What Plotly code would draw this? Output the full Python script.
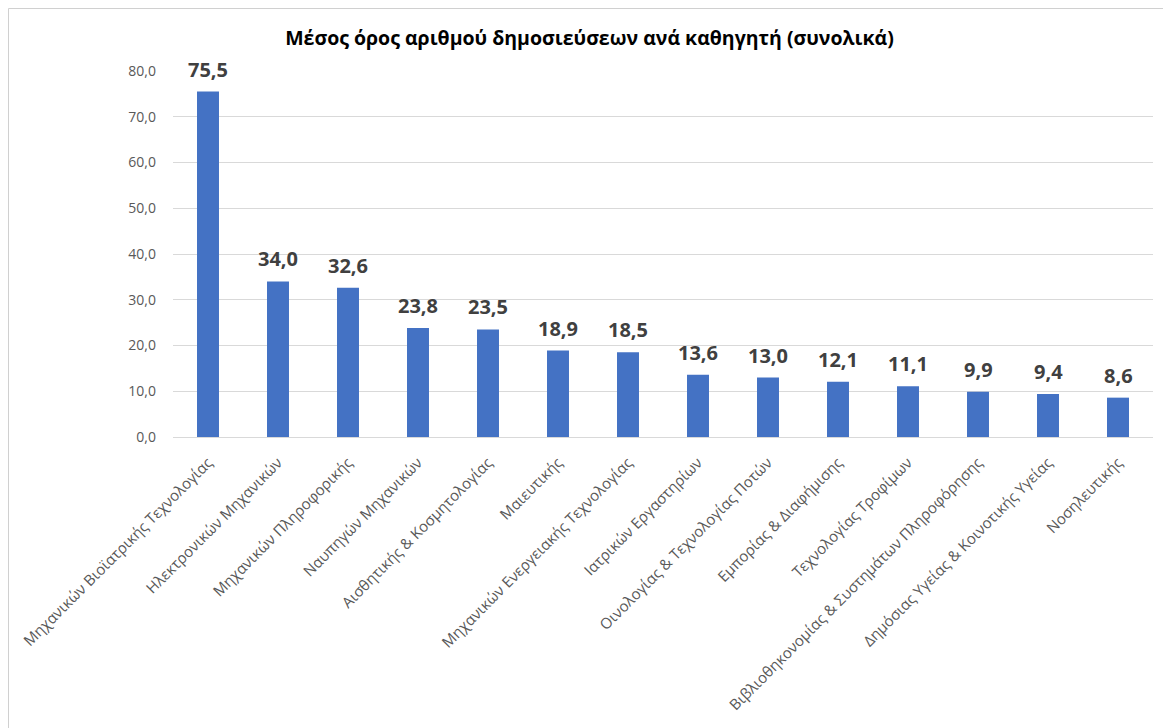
import plotly.graph_objects as go

categories = [
    "Μηχανικών Βιοϊατρικής Τεχνολογίας",
    "Ηλεκτρονικών Μηχανικών",
    "Μηχανικών Πληροφορικής",
    "Ναυπηγών Μηχανικών",
    "Αισθητικής & Κοσμητολογίας",
    "Μαιευτικής",
    "Μηχανικών Ενεργειακής Τεχνολογίας",
    "Ιατρικών Εργαστηρίων",
    "Οινολογίας & Τεχνολογίας Ποτών",
    "Εμπορίας & Διαφήμισης",
    "Τεχνολογίας Τροφίμων",
    "Βιβλιοθηκονομίας & Συστημάτων Πληροφόρησης",
    "Δημόσιας Υγείας & Κοινοτικής Υγείας",
    "Νοσηλευτικής",
]
values = [75.5, 34.0, 32.6, 23.8, 23.5, 18.9, 18.5, 13.6, 13.0, 12.1, 11.1, 9.9, 9.4, 8.6]
y_ticks = [0, 10, 20, 30, 40, 50, 60, 70, 80]

# page body has an 8px margin, so the figure is laid out in its own coordinates
W, H = 1163, 720
L, R, T, B = 165, 18, 63, 291
PW, PH = W - L - R, H - T - B

fig = go.Figure(go.Bar(
    x=categories,
    y=values,
    marker=dict(color="#4472C4", line=dict(width=0)),
    hoverinfo="x+y",
))

for c, v in zip(categories, values):
    fig.add_annotation(
        x=c, y=v, xref="x", yref="y",
        text=f"<b>{v:.1f}</b>".replace(".", ","),
        showarrow=False, yanchor="bottom", yshift=7,
        font=dict(family="Open Sans", size=20, color="#404040"),
    )

fig.update_layout(
    width=W, height=H,
    margin=dict(l=L, r=R, t=T, b=B, autoexpand=False),
    paper_bgcolor="white",
    plot_bgcolor="white",
    separators=",.",
    bargap=0.686,
    showlegend=False,
    title=dict(
        text="<b>Μέσος όρος αριθμού δημοσιεύσεων ανά καθηγητή (συνολικά)</b>",
        x=0.5, xanchor="center", xref="container",
        y=1 - 30 / H, yanchor="middle", yref="container",
        font=dict(family="Open Sans", size=19.5, color="#000000"),
    ),
    font=dict(family="Open Sans", color="#595959"),
    xaxis=dict(
        tickangle=-45,
        tickfont=dict(size=15, color="#595959"),
        showgrid=False,
        showline=True, linecolor="#d9d9d9", linewidth=1,
        ticks="",
        ticklabelstandoff=10,
    ),
    yaxis=dict(
        range=[0, 80],
        tickvals=y_ticks,
        tickformat=".1f",
        tickfont=dict(size=14, color="#595959"),
        showgrid=True, gridcolor="#d9d9d9", gridwidth=1,
        zeroline=False,
        showline=False,
        ticks="",
        ticklabelstandoff=16,
    ),
    shapes=[dict(
        type="rect", xref="paper", yref="paper",
        x0=(0.5 - L) / PW, x1=(1160 - L) / PW,
        y0=-(B + 20) / PH,
        y1=1 + (T - 0.5) / PH,
        line=dict(color="#d0d0d0", width=1),
        fillcolor="rgba(0,0,0,0)",
        layer="below",
    )],
)

fig.write_html("out.html")
